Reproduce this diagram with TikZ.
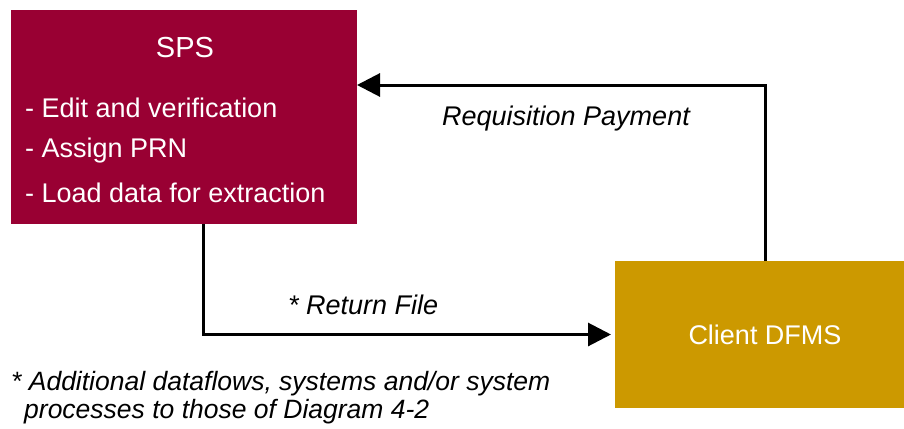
\documentclass[tikz,border=0pt]{standalone}
\usepackage{fontspec}
\setmainfont{Liberation Sans}
\usetikzlibrary{arrows.meta}
\definecolor{spsred}{HTML}{990033}
\definecolor{clientgold}{HTML}{CC9900}
\tikzset{
  box/.style={draw=none, inner sep=0pt, outer sep=0pt, anchor=north west},
  boxtext/.style={text=white, font=\fontsize{27}{32}\selectfont, inner sep=0pt},
  lbl/.style={font=\fontsize{27}{32}\selectfont\itshape, inner sep=0pt, anchor=base west},
  notetext/.style={lbl, font=\fontsize{26.5}{32}\selectfont\itshape},
  flow/.style={line width=3pt, -{Triangle[length=23pt,width=23pt]}}
}
\begin{document}
\begin{tikzpicture}[x=1pt,y=-1pt]
\useasboundingbox (0,0) rectangle (904,428);
\node[box, fill=spsred, minimum width=346pt, minimum height=214pt] (sps) at (11,10) {};
\node[box, fill=clientgold, minimum width=289pt, minimum height=147pt] (client) at (615,261) {};
\node[boxtext, anchor=base, font=\fontsize{29}{34}\selectfont] (spstitle) at (185,58) {SPS};
\node[boxtext, anchor=base west] (l1) at (25,117) {- Edit and verification};
\node[boxtext, anchor=base west] (l2) at (25,157) {- Assign PRN};
\node[boxtext, anchor=base west] (l3) at (25,202) {- Load data for extraction};
\node[boxtext, anchor=base] (clienttext) at (765,344) {Client DFMS};
\draw[flow] ([xshift=150pt]client.north west) |- ([yshift=-75pt]sps.north east);
\draw[flow, shorten >=4pt] ([xshift=192pt]sps.south west) |- (client.west);
\node[lbl] (req) at (442,125) {Requisition Payment};
\node[lbl] (ret) at (288,314) {* Return File};
\node[notetext] (note1) at (11,390) {* Additional dataflows, systems and/or system};
\node[notetext] (note2) at (24,418) {processes to those of Diagram 4-2};
\end{tikzpicture}
\end{document}
